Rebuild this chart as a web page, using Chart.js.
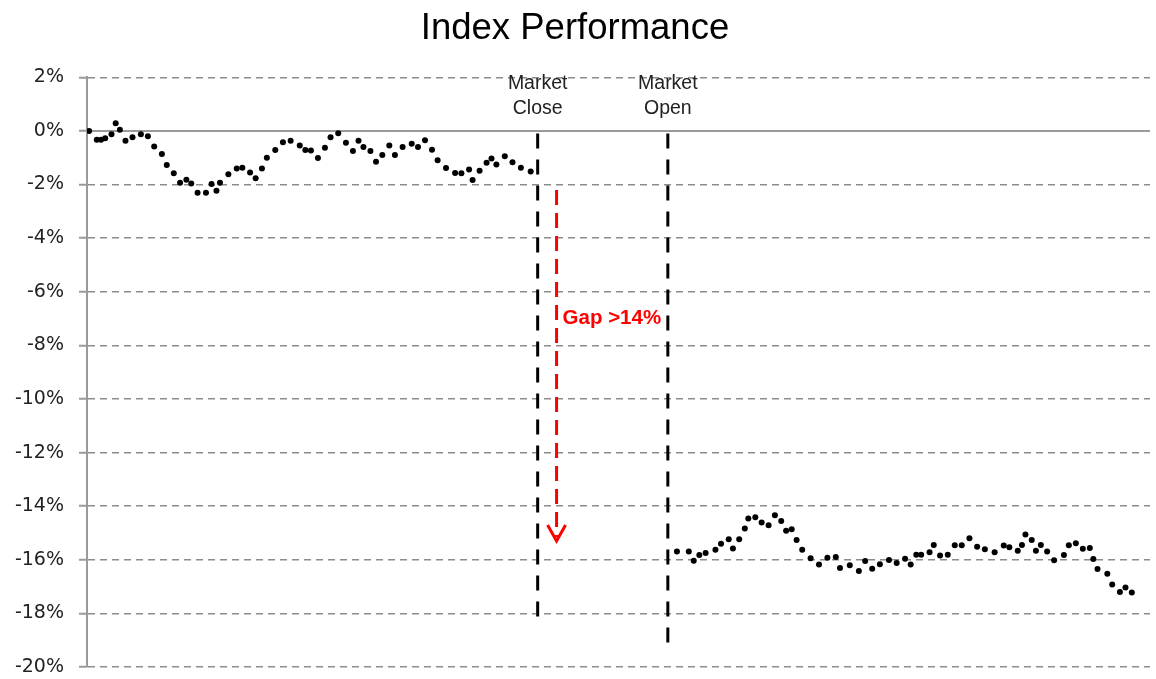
<!DOCTYPE html>
<html>
<head>
<meta charset="utf-8">
<title>Index Performance</title>
<script src="https://cdn.jsdelivr.net/npm/chart.js@4.4.1/dist/chart.umd.min.js"></script>
<style>
  html, body { margin: 0; padding: 0; background: #fff; }
  #wrap { width: 1156px; height: 679px; }
</style>
</head>
<body>
<div id="wrap"><canvas id="perf"></canvas></div>
<script>
// time index of each print (arbitrary session units) and index change in %
const closeTimes = [0.3, 1.4, 2.0, 2.6, 3.5, 4.1, 4.7, 5.5, 6.5, 7.7, 8.7, 9.6, 10.7, 11.4, 12.4, 13.3, 14.2, 14.9, 15.8, 17.0,
  17.8, 18.5, 19.0, 20.2, 21.4, 22.2, 23.3, 24.1, 25.0, 25.7, 26.9, 28.0, 29.1, 30.4, 31.2, 32.0, 33.0, 34.0, 34.8, 35.9,
  37.0, 38.0, 38.8, 39.5, 40.5, 41.3, 42.2, 43.2, 44.0, 45.1, 46.4, 47.3, 48.3, 49.3, 50.1, 51.3, 52.6, 53.5, 54.6, 55.1,
  56.1, 57.1, 57.8, 58.5, 59.7, 60.8, 62.0, 63.4];
const closeValues = [0.00, -0.33, -0.33, -0.27, -0.12, 0.29, 0.04, -0.37, -0.24, -0.12, -0.20, -0.58, -0.86, -1.27, -1.58, -1.93, -1.82, -1.96, -2.31, -2.31,
  -1.98, -2.23, -1.93, -1.62, -1.40, -1.37, -1.55, -1.77, -1.40, -1.00, -0.71, -0.42, -0.37, -0.54, -0.71, -0.73, -1.01, -0.63, -0.24, -0.09,
  -0.44, -0.75, -0.37, -0.60, -0.75, -1.15, -0.90, -0.54, -0.90, -0.60, -0.48, -0.60, -0.35, -0.70, -1.09, -1.38, -1.57, -1.58, -1.44, -1.83,
  -1.49, -1.19, -1.03, -1.25, -0.95, -1.17, -1.37, -1.51];

const openTimes = [84.3, 86.0, 86.7, 87.5, 88.4, 89.8, 90.6, 91.7, 92.3, 93.2, 94.0, 94.5, 95.5, 96.4, 97.4, 98.3, 99.2, 99.9, 100.7, 101.4,
  102.2, 103.4, 104.6, 105.8, 107.0, 107.6, 109.0, 110.3, 111.2, 112.2, 113.3, 114.6, 115.7, 116.9, 117.7, 118.5, 119.2, 120.4, 121.0, 121.9,
  123.0, 124.0, 125.0, 126.1, 127.2, 128.3, 129.7, 131.0, 131.8, 133.0, 133.6, 134.1, 135.0, 135.6, 136.3, 137.2, 138.2, 139.6, 140.3, 141.3,
  142.3, 143.3, 143.8, 144.4, 145.8, 146.5, 147.6, 148.4, 149.3];
const openValues = [-15.69, -15.69, -16.04, -15.82, -15.75, -15.63, -15.40, -15.23, -15.58, -15.23, -14.83, -14.46, -14.41, -14.61, -14.71, -14.34, -14.55, -14.92, -14.86, -15.26,
  -15.63, -15.94, -16.18, -15.92, -15.90, -16.31, -16.20, -16.42, -16.05, -16.33, -16.17, -16.01, -16.12, -15.96, -16.18, -15.81, -15.81, -15.72, -15.45, -15.84,
  -15.81, -15.46, -15.46, -15.20, -15.51, -15.61, -15.72, -15.47, -15.53, -15.66, -15.45, -15.06, -15.26, -15.66, -15.45, -15.69, -16.02, -15.82, -15.46, -15.38,
  -15.59, -15.56, -15.97, -16.34, -16.52, -16.92, -17.20, -17.03, -17.22];

const yTicks = [2, 0, -2, -4, -6, -8, -10, -12, -14, -16, -18, -20];

// session markers and gap annotation (data units)
const closeAt = 64.4, openAt = 83.0, gapAt = 67.1;
const closeSpan = [-0.1, -18.5], openSpan = [-0.1, -19.3], gapSpan = [-2.2, -15.3];

const toPoints = (xs, ys) => xs.map((x, i) => ({ x, y: ys[i] }));

const overlay = {
  id: "overlay",
  beforeDatasetsDraw(chart) {
    const { ctx, chartArea: a, scales: { y } } = chart;
    ctx.save();
    ctx.strokeStyle = "#9a9a9a";
    ctx.lineWidth = 2;
    ctx.beginPath();
    ctx.moveTo(a.left, y.getPixelForValue(0));
    ctx.lineTo(a.right, y.getPixelForValue(0));
    ctx.stroke();
    ctx.restore();
  },
  afterDraw(chart) {
    const { ctx, chartArea: a, scales: { x, y } } = chart;
    ctx.save();

    // market close / open lines
    ctx.strokeStyle = "#000";
    ctx.lineWidth = 3;
    ctx.setLineDash([15, 11]);
    [[closeAt, closeSpan], [openAt, openSpan]].forEach(([t, span]) => {
      const px = x.getPixelForValue(t);
      ctx.beginPath();
      ctx.moveTo(px, y.getPixelForValue(span[0]));
      ctx.lineTo(px, y.getPixelForValue(span[1]));
      ctx.stroke();
    });

    // labels above them
    ctx.setLineDash([]);
    ctx.fillStyle = "#222";
    ctx.font = "19.5px 'Liberation Sans', Arial, sans-serif";
    ctx.textAlign = "center";
    ctx.textBaseline = "middle";
    [[closeAt, "Close"], [openAt, "Open"]].forEach(([t, word]) => {
      const px = x.getPixelForValue(t);
      ctx.fillText("Market", px, a.top + 6);
      ctx.fillText(word, px, a.top + 31);
    });

    // red gap arrow
    const gx = x.getPixelForValue(gapAt);
    const g0 = y.getPixelForValue(gapSpan[0]);
    const g1 = y.getPixelForValue(gapSpan[1]);
    ctx.strokeStyle = "#ff0000";
    ctx.lineWidth = 3;
    ctx.setLineDash([15, 8]);
    ctx.beginPath();
    ctx.moveTo(gx, g0);
    ctx.lineTo(gx, g1 - 4);
    ctx.stroke();
    ctx.setLineDash([]);
    ctx.beginPath();
    ctx.moveTo(gx - 9, g1 - 16);
    ctx.lineTo(gx, g1);
    ctx.lineTo(gx + 9, g1 - 16);
    ctx.stroke();

    ctx.fillStyle = "#ff0000";
    ctx.font = "bold 20.5px 'Liberation Sans', Arial, sans-serif";
    ctx.textAlign = "left";
    ctx.fillText("Gap >14%", gx + 6, y.getPixelForValue(-7.0));
    ctx.restore();
  }
};

new Chart(document.getElementById("perf"), {
  type: "scatter",
  data: {
    datasets: [
      { label: "Before close", data: toPoints(closeTimes, closeValues) },
      { label: "After open", data: toPoints(openTimes, openValues) }
    ]
  },
  options: {
    responsive: true,
    maintainAspectRatio: false,
    animation: false,
    events: [],
    layout: { padding: { left: 0, right: 6, top: 0, bottom: 12 } },
    elements: {
      point: { radius: 3, backgroundColor: "#000", borderWidth: 0, hoverRadius: 3 }
    },
    plugins: {
      legend: { display: false },
      tooltip: { enabled: false },
      title: {
        display: true,
        text: "Index Performance",
        color: "#000",
        font: { family: "'Liberation Sans', Arial, sans-serif", size: 36.5, weight: "normal" },
        padding: { top: 7, bottom: 26.5 }
      }
    },
    scales: {
      x: { type: "linear", display: false, min: 0, max: 151.9 },
      y: {
        min: yTicks[yTicks.length - 1],
        max: yTicks[0],
        afterBuildTicks: (s) => { s.ticks = yTicks.map((v) => ({ value: v })); },
        afterFit: (s) => { s.width = 87; s.paddingTop = 0; s.paddingBottom = 0; },
        ticks: {
          padding: 15,
          color: "#222",
          font: { family: "'DejaVu Sans', sans-serif", size: 19 },
          callback: (v) => v + "%"
        },
        grid: {
          color: "#8c8c8c",
          lineWidth: 1.5,
          tickLength: 8,
          tickColor: "#9a9a9a",
          tickWidth: 2
        },
        border: { display: true, color: "#9a9a9a", width: 2, dash: [7, 5] }
      }
    }
  },
  plugins: [overlay]
});
</script>
</body>
</html>
